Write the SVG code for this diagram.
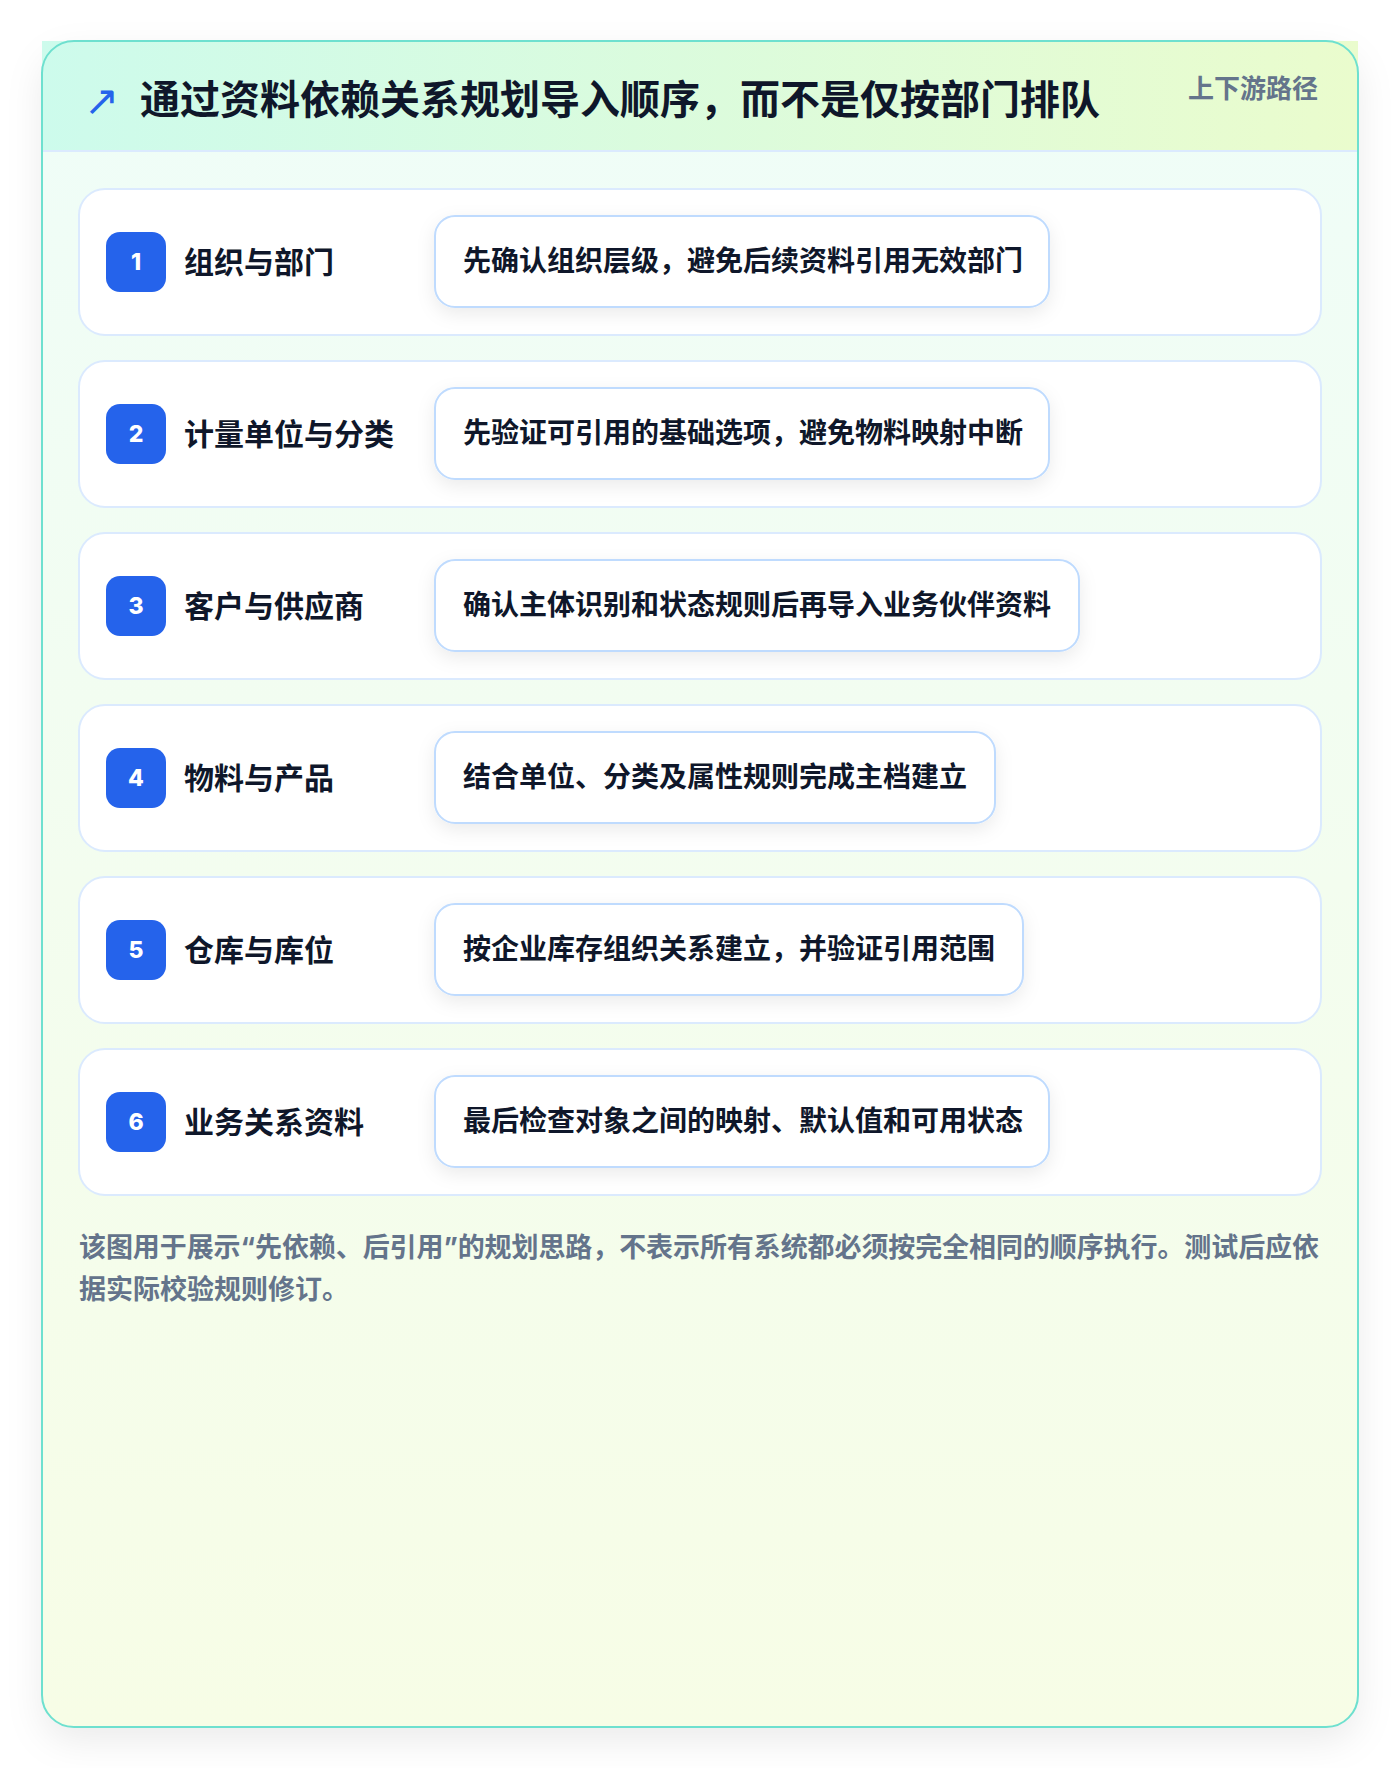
<svg xmlns="http://www.w3.org/2000/svg" width="1400" height="1768" viewBox="0 0 1400 1768">
<defs>
<linearGradient id="bodyGrad" x1="0" y1="0" x2="0" y2="1">
<stop offset="0" stop-color="#effdf8"/>
<stop offset="1" stop-color="#f7fde6"/>
</linearGradient>
<linearGradient id="headGrad" x1="0" y1="0" x2="1" y2="0">
<stop offset="0" stop-color="#cdfbec"/>
<stop offset="1" stop-color="#eafccd"/>
</linearGradient>
<filter id="cardShadow" x="-10%" y="-10%" width="120%" height="120%">
<feDropShadow dx="0" dy="14" stdDeviation="18" flood-color="#0f172a" flood-opacity="0.08"/>
</filter>
<filter id="pillShadow" x="-20%" y="-50%" width="140%" height="200%">
<feDropShadow dx="0" dy="6" stdDeviation="9" flood-color="#0f172a" flood-opacity="0.08"/>
</filter>
</defs>
<style>
.row{fill:#ffffff;stroke:#dbeafe;stroke-width:2}
.badge{fill:#2563eb}
.num{font-family:Inter,"Noto Sans",sans-serif;font-weight:800;font-size:23px;fill:#ffffff;text-anchor:middle}
.label{font-family:Inter,"Noto Sans CJK SC",sans-serif;font-weight:700;font-size:30px;fill:#0f172a}
.pill{fill:#ffffff;stroke:#bfdbfe;stroke-width:2;filter:url(#pillShadow)}
.desc{font-family:Inter,"Noto Sans CJK SC",sans-serif;font-weight:700;font-size:28px;fill:#0f172a}
.note{font-family:Inter,"Noto Sans CJK SC",sans-serif;font-weight:700;font-size:27px;fill:#64748b}
</style>
<rect width="1400" height="1768" fill="#ffffff"/>
<g id="card">
<rect x="42" y="41" width="1316" height="1686" rx="32" fill="url(#bodyGrad)" filter="url(#cardShadow)"/>
<rect x="42" y="41" width="1316" height="110" fill="url(#headGrad)"/>
<line x1="42" y1="151" x2="1358" y2="151" stroke="#dbeafe" stroke-width="2"/>
<rect x="42" y="41" width="1316" height="1686" rx="32" fill="none" stroke="#6ee0cf" stroke-width="2"/>
</g>
<g id="header">
<text x="84" y="115" font-family="'Noto Sans','DejaVu Sans',sans-serif" font-size="42" fill="#2563eb">↗</text>
<text x="140" y="114" font-family="Inter,'Noto Sans CJK SC',sans-serif" font-weight="700" font-size="40" fill="#0f172a">通过资料依赖关系规划导入顺序，而不是仅按部门排队</text>
<text x="1318" y="98" text-anchor="end" font-family="Inter,'Noto Sans CJK SC',sans-serif" font-weight="700" font-size="26" fill="#64748b">上下游路径</text>
</g>
<g id="row-1">
<rect class="row" x="79" y="189" width="1242" height="146" rx="26"/>
<rect class="badge" x="106" y="232" width="60" height="60" rx="14"/>
<text class="num" x="136" y="270">1</text>
<text class="label" x="184" y="273">组织与部门</text>
<rect class="pill" x="435" y="216" width="614" height="91" rx="20"/>
<text class="desc" x="463" y="271">先确认组织层级，避免后续资料引用无效部门</text>
</g>
<g id="row-2">
<rect class="row" x="79" y="361" width="1242" height="146" rx="26"/>
<rect class="badge" x="106" y="404" width="60" height="60" rx="14"/>
<text class="num" x="136" y="442">2</text>
<text class="label" x="184" y="445">计量单位与分类</text>
<rect class="pill" x="435" y="388" width="614" height="91" rx="20"/>
<text class="desc" x="463" y="443">先验证可引用的基础选项，避免物料映射中断</text>
</g>
<g id="row-3">
<rect class="row" x="79" y="533" width="1242" height="146" rx="26"/>
<rect class="badge" x="106" y="576" width="60" height="60" rx="14"/>
<text class="num" x="136" y="614">3</text>
<text class="label" x="184" y="617">客户与供应商</text>
<rect class="pill" x="435" y="560" width="644" height="91" rx="20"/>
<text class="desc" x="463" y="615">确认主体识别和状态规则后再导入业务伙伴资料</text>
</g>
<g id="row-4">
<rect class="row" x="79" y="705" width="1242" height="146" rx="26"/>
<rect class="badge" x="106" y="748" width="60" height="60" rx="14"/>
<text class="num" x="136" y="786">4</text>
<text class="label" x="184" y="789">物料与产品</text>
<rect class="pill" x="435" y="732" width="560" height="91" rx="20"/>
<text class="desc" x="463" y="787">结合单位、分类及属性规则完成主档建立</text>
</g>
<g id="row-5">
<rect class="row" x="79" y="877" width="1242" height="146" rx="26"/>
<rect class="badge" x="106" y="920" width="60" height="60" rx="14"/>
<text class="num" x="136" y="958">5</text>
<text class="label" x="184" y="961">仓库与库位</text>
<rect class="pill" x="435" y="904" width="588" height="91" rx="20"/>
<text class="desc" x="463" y="959">按企业库存组织关系建立，并验证引用范围</text>
</g>
<g id="row-6">
<rect class="row" x="79" y="1049" width="1242" height="146" rx="26"/>
<rect class="badge" x="106" y="1092" width="60" height="60" rx="14"/>
<text class="num" x="136" y="1130">6</text>
<text class="label" x="184" y="1133">业务关系资料</text>
<rect class="pill" x="435" y="1076" width="614" height="91" rx="20"/>
<text class="desc" x="463" y="1131">最后检查对象之间的映射、默认值和可用状态</text>
</g>
<g id="connectors"/>
<g id="footnote">
<text class="note" x="79" y="1257" textLength="1240" lengthAdjust="spacing">该图用于展示“先依赖、后引用”的规划思路，不表示所有系统都必须按完全相同的顺序执行。测试后应依</text>
<text class="note" x="79" y="1299">据实际校验规则修订。</text>
</g>
</svg>
